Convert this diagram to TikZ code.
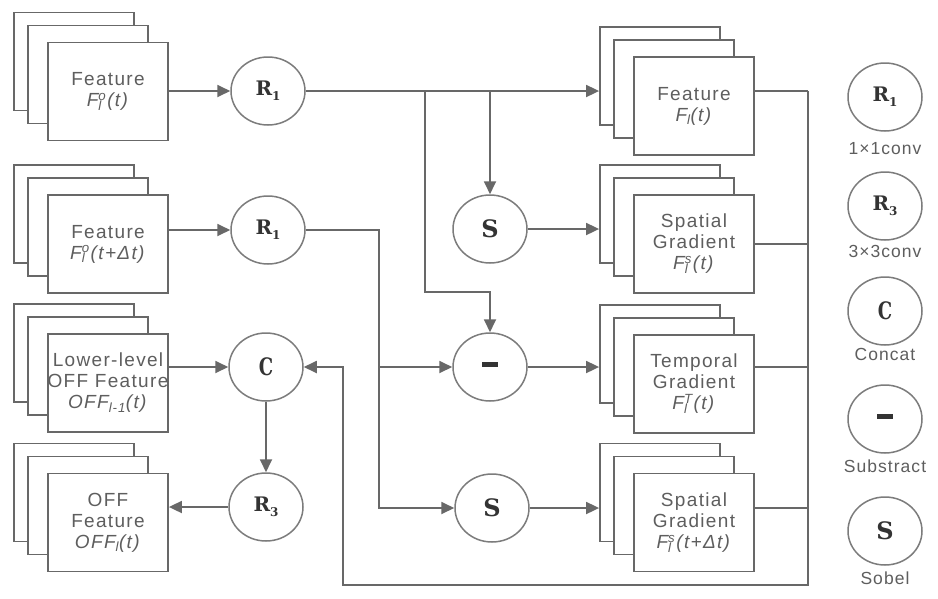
\documentclass[tikz,border=0pt]{standalone}
\usepackage{fontspec}
\usepackage{graphicx}
\setmainfont{Liberation Sans}
\newfontfamily\opfont{DejaVu Serif}
\usetikzlibrary{arrows.meta,shapes.geometric}

\definecolor{linegray}{HTML}{686868}
\definecolor{txtgray}{HTML}{5E5E5E}
\definecolor{circgray}{HTML}{7C7C7C}
\definecolor{symgray}{HTML}{333333}

% stacked super/subscript after a symbol, as wide as the wider of the two
\newcommand{\supsub}[2]{%
  \setbox0\hbox{\textsuperscript{#1}}%
  \setbox2\hbox{\textsubscript{#2}}%
  \ifdim\wd0>\wd2 \rlap{\box2}\box0\else\rlap{\box0}\box2\fi\kern1pt}
% operator labels
\newcommand{\opR}[1]{{\opfont\bfseries\fontsize{20}{20}\selectfont R\raisebox{-5pt}{\fontsize{12}{12}\selectfont #1}}}
\newcommand{\opS}{{\opfont\bfseries\fontsize{24}{24}\selectfont S}}
\newcommand{\opC}{{\opfont\bfseries\fontsize{24}{24}\selectfont\scalebox{0.75}[1]{C}}}
\newcommand{\opMinus}{{\rule[5pt]{16pt}{4.5pt}}}
\newcommand{\boxfont}{\addfontfeature{LetterSpace=7}\fontsize{19}{21}\selectfont}
\newcommand{\legfont}{\addfontfeature{LetterSpace=6}\fontsize{17.5}{19}\selectfont}

\tikzset{
  layer/.style={draw=linegray, line width=1.8pt, fill=white,
    minimum width=120pt, minimum height=98pt, inner sep=0pt},
  front/.style={layer, align=center, text=txtgray, font=\boxfont},
  op/.style={ellipse, draw=circgray, line width=1.5pt, fill=white,
    minimum width=74pt, minimum height=68pt, inner sep=0pt, text=symgray},
  wire/.style={draw=linegray, line width=1.8pt},
  conn/.style={wire, -{Triangle[length=13pt,width=12pt]}},
  legtext/.style={text=txtgray, font=\legfont, inner sep=0pt}
}

% three stacked feature maps: name, x, y, text of the front sheet
\newcommand{\layerstack}[4]{%
  \node[layer] (#1-b) at (#2-34,#3-30) {};
  \node[layer] (#1-m) at (#2-20,#3-17) {};
  \node[front] (#1) at (#2,#3) {#4};
}

\begin{document}
\begin{tikzpicture}[x=1pt,y=-1pt]
  \fill[white] (0,0) rectangle (938,598);
  \useasboundingbox (0,0) rectangle (938,598);

  % input stacks
  \layerstack{L1}{108}{91.5}{Feature\\\textit{F\supsub{o}{l}(t)}}
  \layerstack{L2}{108}{244}{Feature\\\textit{F\supsub{o}{l}(t+Δt)}}
  \layerstack{L3}{108}{383}{Lower-level\\OFF Feature\\\textit{OFF\textsubscript{l-1}(t)}}
  \layerstack{L4}{108}{522.5}{OFF\\Feature\\\textit{OFF\textsubscript{l}(t)}}

  % output stacks
  \layerstack{Q1}{694}{106}{Feature\\\textit{F\textsubscript{l}(t)}}
  \layerstack{Q2}{694}{244}{Spatial\\Gradient\\\textit{F\supsub{s}{l}(t)}}
  \layerstack{Q3}{694}{384}{Temporal\\Gradient\\\textit{F\supsub{T}{l}(t)}}
  \layerstack{Q4}{694}{522.5}{Spatial\\Gradient\\\textit{F\supsub{s}{l}(t+Δt)}}

  % operators
  \node[op] (R1a) at (268,91) {\opR{1}};
  \node[op] (R1b) at (268,230) {\opR{1}};
  \node[op] (C) at (266,367) {\opC};
  \node[op] (R3) at (266,507) {\opR{3}};
  \node[op] (S1) at (490,229) {\opS};
  \node[op] (Mi) at (490,367) {\opMinus};
  \node[op] (S2) at (492,508) {\opS};

  % routing points
  \coordinate (j1) at (425,91);
  \coordinate (k1) at (425,292);
  \coordinate (v2) at (379,0);
  \coordinate (bus) at (808,0);
  \coordinate (fb) at (343,585);

  % first branch: R1 of F(t)
  \draw[conn] (L1.east |- R1a.west) -- (R1a.west);
  \draw[conn] (R1a.east) -- (Q1-b.west |- R1a.east);
  \draw[conn] (S1 |- R1a.east) -- (S1.north);
  \draw[conn] (j1) -- (k1) -| (Mi.north);

  % second branch: R1 of F(t+dt)
  \draw[conn] (L2.east |- R1b.west) -- (R1b.west);
  \draw[conn] (R1b.east) -| (v2 |- S2.west) -- (S2.west);
  \draw[conn] (v2 |- Mi.west) -- (Mi.west);

  % operators to output stacks
  \draw[conn] (S1.east) -- (Q2-b.west |- S1.east);
  \draw[conn] (Mi.east) -- (Q3-b.west |- Mi.east);
  \draw[conn] (S2.east) -- (Q4-b.west |- S2.east);

  % outputs collected and fed back to the concat
  \draw[wire] (Q1.east |- R1a.east) -- (bus |- R1a.east);
  \draw[wire] (Q2.east) -- (bus |- Q2.east);
  \draw[wire] (Q3.east |- Mi.east) -- (bus |- Mi.east);
  \draw[wire] (Q4.east |- S2.east) -- (bus |- S2.east);
  \draw[conn] (bus |- R1a.east) -- (bus |- fb) -- (fb) |- (C.east);

  % lower-level feature, concat and 3x3 conv
  \draw[conn] (L3.east |- C.west) -- (C.west);
  \draw[conn] (C.south) -- (R3.north);
  \draw[conn] (R3.west) -- (L4.east |- R3.west);

  % legend
  \node[op] (gR1) at (885,97) {\opR{1}};
  \node[legtext] (tR1) at (885,149) {1×1conv};
  \node[op] (gR3) at (885,206) {\opR{3}};
  \node[legtext] (tR3) at (885,251) {3×3conv};
  \node[op] (gC) at (885,311) {\opC};
  \node[legtext] (tC) at (885,354) {Concat};
  \node[op] (gM) at (885,419) {\opMinus};
  \node[legtext] (tM) at (885,466) {Substract};
  \node[op] (gS) at (885,531) {\opS};
  \node[legtext] (tS) at (885,578) {Sobel};
\end{tikzpicture}
\end{document}
